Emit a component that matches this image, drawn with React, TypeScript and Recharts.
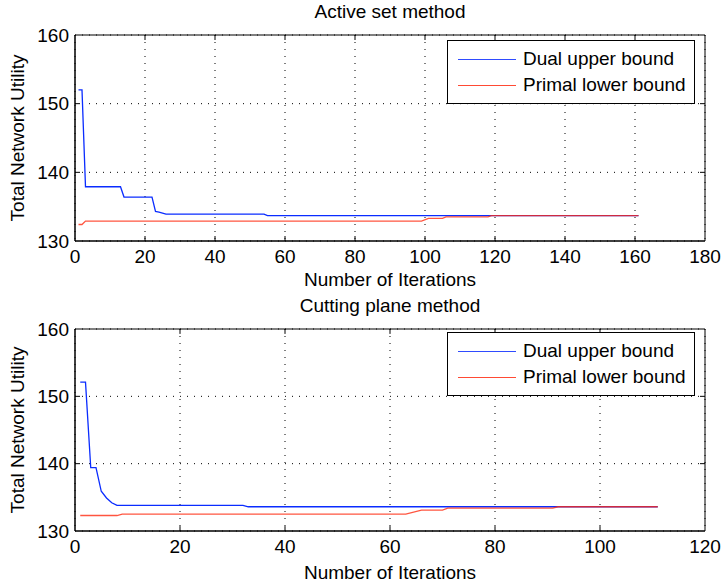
import { LineChart, Line, XAxis, YAxis, CartesianGrid, ReferenceArea, ReferenceLine } from "recharts";

// Active set method (iteration, utility)
const activeDual = [
  { x: 1, y: 152 }, { x: 2, y: 152 }, { x: 3, y: 137.9 }, { x: 13, y: 137.9 },
  { x: 14, y: 136.4 }, { x: 22, y: 136.4 }, { x: 23, y: 134.3 }, { x: 24, y: 134.2 },
  { x: 26, y: 133.9 }, { x: 54, y: 133.9 }, { x: 55, y: 133.7 }, { x: 161, y: 133.7 },
];
const activePrimal = [
  { x: 1, y: 132.4 }, { x: 2, y: 132.4 }, { x: 3, y: 132.9 }, { x: 99, y: 132.9 },
  { x: 101, y: 133.3 }, { x: 105, y: 133.3 }, { x: 106, y: 133.5 }, { x: 118, y: 133.5 },
  { x: 119, y: 133.7 }, { x: 161, y: 133.7 },
];

// Cutting plane method
const cuttingDual = [
  { x: 1, y: 152.1 }, { x: 2, y: 152.1 }, { x: 3, y: 139.4 }, { x: 4, y: 139.4 },
  { x: 5, y: 135.9 }, { x: 6, y: 134.9 }, { x: 7, y: 134.2 }, { x: 8, y: 133.8 },
  { x: 32, y: 133.8 }, { x: 33, y: 133.6 }, { x: 111, y: 133.6 },
];
const cuttingPrimal = [
  { x: 1, y: 132.3 }, { x: 8, y: 132.3 }, { x: 9, y: 132.5 }, { x: 63, y: 132.5 },
  { x: 66, y: 133.1 }, { x: 70, y: 133.1 }, { x: 71, y: 133.4 }, { x: 91, y: 133.4 },
  { x: 92, y: 133.6 }, { x: 111, y: 133.6 },
];

const yTicks = [130, 140, 150, 160];
const xTicksActive = [0, 20, 40, 60, 80, 100, 120, 140, 160, 180];
const xTicksCutting = [0, 20, 40, 60, 80, 100, 120];

const BLUE = "#0a2cff";
const RED = "#ff2a10";
const FONT = "'Liberation Sans', Arial, sans-serif";
const FS = 19;

const YLabel = (props: any) => {
  const vb = props.viewBox;
  const cx = vb.x + 17;
  const cy = vb.y + vb.height / 2;
  return (
    <text x={cx} y={cy} transform={`rotate(-90 ${cx} ${cy})`} textAnchor="middle" dominantBaseline="central" fontSize={FS} fill="#000">
      Total Network Utility
    </text>
  );
};

const LegendBox = (p: any) => (
  <div style={{ position: "absolute", top: p.top, left: 447, border: "1px solid #000", background: "#fff", padding: "5px 0", width: 248, boxSizing: "border-box" }}>
    {[{ c: BLUE, t: "Dual upper bound" }, { c: RED, t: "Primal lower bound" }].map((it) => (
      <div key={it.t} style={{ display: "flex", alignItems: "center", height: 26 }}>
        <div style={{ width: 58, height: 1, background: it.c, marginLeft: 10, marginRight: 7, opacity: 0.85 }} />
        <span style={{ fontSize: FS, color: "#000" }}>{it.t}</span>
      </div>
    ))}
  </div>
);

const Panel = (p: any) => {
  const xMax = p.xTicks[p.xTicks.length - 1];
  const xTickLen = (xMax / 630) * 5;
  const yTickLen = (30 / 206) * 5;
  return (
    <div style={{ position: "relative", width: 722, height: 293 }}>
      <div style={{ position: "absolute", top: p.titleTop, left: 75, width: 630, textAlign: "center", fontSize: FS }}>{p.title}</div>
      <LineChart width={722} height={293} margin={{ top: p.top, right: 17, bottom: 0, left: 0 }}>
        <CartesianGrid stroke="#000" strokeDasharray="1 6" />
        <XAxis
          type="number"
          dataKey="x"
          domain={[0, xMax]}
          ticks={p.xTicks}
          height={p.axisH}
          tickLine={false}
          tickSize={0}
          tickMargin={9}
          axisLine={{ stroke: "#000" }}
          tick={{ fill: "#000", fontSize: FS }}
          allowDataOverflow
          label={{ value: "Number of Iterations", position: "insideBottom", offset: p.labelOffset, fill: "#000", fontSize: FS }}
        />
        <YAxis
          type="number"
          domain={[130, 160]}
          ticks={yTicks}
          width={75}
          tickLine={false}
          tickSize={0}
          tickMargin={6}
          axisLine={{ stroke: "#000" }}
          tick={{ fill: "#000", fontSize: FS }}
          label={<YLabel />}
        />
        <ReferenceArea x1={0} x2={xMax} y1={130} y2={160} fill="none" stroke="#000" strokeWidth={1} />
        {p.xTicks.slice(1, -1).map((t: number) => (
          <ReferenceLine key={"b" + t} segment={[{ x: t, y: 130 }, { x: t, y: 130 + yTickLen }]} stroke="#000" />
        ))}
        {p.xTicks.slice(1, -1).map((t: number) => (
          <ReferenceLine key={"t" + t} segment={[{ x: t, y: 160 }, { x: t, y: 160 - yTickLen }]} stroke="#000" />
        ))}
        {yTicks.slice(1, -1).map((t: number) => (
          <ReferenceLine key={"l" + t} segment={[{ x: 0, y: t }, { x: xTickLen, y: t }]} stroke="#000" />
        ))}
        {yTicks.slice(1, -1).map((t: number) => (
          <ReferenceLine key={"r" + t} segment={[{ x: xMax, y: t }, { x: xMax - xTickLen, y: t }]} stroke="#000" />
        ))}
        <Line data={p.dual} dataKey="y" name="Dual upper bound" type="linear" stroke={BLUE} strokeWidth={1.3} dot={false} isAnimationActive={false} />
        <Line data={p.primal} dataKey="y" name="Primal lower bound" type="linear" stroke={RED} strokeWidth={1.3} strokeOpacity={0.8} dot={false} isAnimationActive={false} />
      </LineChart>
      <LegendBox top={p.legendTop} />
    </div>
  );
};

export default function App() {
  return (
    <div style={{ position: "absolute", left: 0, top: 0, width: 722, height: 586, background: "#fff", fontFamily: FONT }}>
      <Panel title="Active set method" titleTop={1} top={35} axisH={52} labelOffset={7} legendTop={40} xTicks={xTicksActive} dual={activeDual} primal={activePrimal} />
      <Panel title="Cutting plane method" titleTop={2} top={36} axisH={55} labelOffset={7} legendTop={39} xTicks={xTicksCutting} dual={cuttingDual} primal={cuttingPrimal} />
    </div>
  );
}
